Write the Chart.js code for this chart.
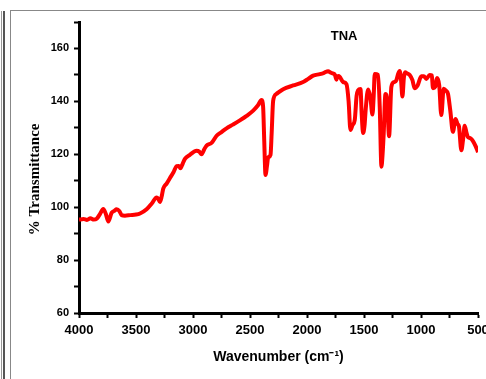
<!DOCTYPE html>
<html>
<head>
<meta charset="utf-8">
<script src="https://cdn.jsdelivr.net/npm/chart.js@4"></script>
<style>
  body { margin: 0; background: #fff; }
  #wrap { position: relative; width: 486px; height: 379px; overflow: hidden; }
  #outer1 { position: absolute; left: 1px; top: 11px; width: 1px; height: 368px; background: #999; }
  #outer2 { position: absolute; left: 3px; top: 11px; width: 2px; height: 368px; background: #555; }
  #frame { position: absolute; left: 10px; top: 10px; width: 490px; height: 380px; border: 1px solid #888; border-right: none; border-bottom: none; }
  canvas { position: absolute; left: 0; top: 0; }
</style>
</head>
<body>
<div id="wrap">
  <div id="outer1"></div>
  <div id="outer2"></div>
  <div id="frame"></div>
  <canvas id="irChart" width="486" height="379"></canvas>
</div>
<script>
const ctx = document.getElementById("irChart").getContext("2d");

// Wavenumber (cm-1)
const wavenumbers = [
  4000, 3960, 3930, 3900, 3870, 3845, 3815, 3787, 3765, 3743,
  3714, 3690, 3670, 3645, 3626, 3597, 3550, 3500, 3465, 3407,
  3360, 3319, 3305, 3290, 3275, 3261, 3230, 3202, 3170, 3144,
  3125, 3110, 3090, 3071, 3027, 2969, 2945, 2925, 2900, 2881,
  2837, 2793, 2750, 2706, 2650, 2589, 2530, 2472, 2430, 2399,
  2385, 2375, 2364, 2350, 2341, 2320, 2310, 2297, 2268, 2209,
  2122, 2034, 1990, 1946, 1888, 1850, 1815, 1790, 1771, 1755,
  1742, 1728, 1713, 1698, 1683, 1654, 1635, 1619, 1601, 1581,
  1565, 1552, 1531, 1520, 1508, 1495, 1485, 1464, 1444, 1426,
  1415, 1406, 1377, 1362, 1347, 1337, 1327, 1312, 1297, 1280,
  1260, 1235, 1216, 1200, 1187, 1175, 1163, 1150, 1140, 1120,
  1099, 1075, 1056, 1030, 997, 975, 953, 924, 905, 895,
  875, 860, 840, 822, 801, 780, 763, 743, 720, 697,
  680, 667, 646, 630, 617, 600, 588, 565, 544, 520,
  500
];

// % Transmittance at each wavenumber
const transmittance = [
  95.3, 95.5, 95.2, 95.8, 95.3, 95.6, 97.5, 99.3, 97.5, 94.6,
  97.9, 98.6, 99.2, 98.5, 97.0, 96.8, 97.0, 97.2, 97.6, 99.2,
  101.5, 103.7, 103.2, 102.0, 104.0, 107.0, 109.0, 111.0, 113.3, 115.5,
  115.6, 114.7, 116.5, 118.3, 119.8, 121.3, 121.0, 120.0, 122.0, 123.3,
  124.3, 127.0, 128.4, 129.8, 131.2, 132.8, 134.5, 136.5, 138.5, 140.5,
  138.0, 125.0, 112.2, 116.0, 118.8, 119.8, 128.0, 140.2, 142.8, 144.6,
  146.0, 147.3, 148.5, 149.7, 150.3, 150.8, 151.4, 150.8, 150.5, 150.0,
  148.2, 149.6, 149.3, 148.2, 147.3, 146.5, 140.0, 129.2, 131.0, 133.0,
  142.0, 144.2, 144.7, 135.0, 128.0, 131.0, 137.0, 144.5, 141.5, 135.0,
  142.0, 150.3, 150.0, 138.0, 115.3, 120.0, 128.0, 142.8, 140.5, 126.8,
  145.5, 147.3, 148.0, 150.5, 151.5, 148.0, 141.8, 149.0, 151.0, 150.5,
  150.0, 148.0, 145.0, 146.0, 149.5, 149.5, 148.5, 150.0, 149.8, 145.0,
  145.5, 148.8, 146.0, 134.8, 144.8, 144.0, 142.8, 136.5, 128.5, 133.3,
  131.5, 130.5, 121.5, 126.0, 130.8, 128.0, 126.5, 126.0, 125.0, 123.0,
  120.8
];

const sampleLabel = "TNA";
const xTitle = "Wavenumber (cm\u207B\u00B9)";
const yTitle = "% Transmittance";

// sample name inside the plot and the y-axis title (sits a bit low, as in the original)
const textPlugin = {
  id: "texts",
  afterDraw(chart) {
    const { ctx, scales } = chart;
    ctx.save();
    ctx.fillStyle = "#000";
    ctx.textAlign = "center";
    ctx.textBaseline = "middle";
    ctx.font = "bold 13px 'Liberation Sans', Arial, sans-serif";
    ctx.fillText(sampleLabel, scales.x.getPixelForValue(1675), scales.y.getPixelForValue(164.5));

    ctx.translate(35, scales.y.getPixelForValue(110.5));
    ctx.rotate(-Math.PI / 2);
    ctx.font = "bold 15px 'Liberation Serif', 'Times New Roman', serif";
    ctx.fillText(yTitle, 0, 0);
    ctx.restore();
  }
};

const points = wavenumbers.map((w, i) => ({ x: w, y: transmittance[i] }));

new Chart(ctx, {
  type: "line",
  data: {
    datasets: [{
      label: sampleLabel,
      data: points,
      borderColor: "#ff0000",
      borderWidth: 4,
      pointRadius: 0,
      cubicInterpolationMode: "monotone",
      fill: false
    }]
  },
  options: {
    responsive: false,
    animation: false,
    layout: { padding: { left: 0, right: 8, top: 22, bottom: 0 } },
    plugins: {
      legend: { display: false },
      tooltip: { enabled: false }
    },
    scales: {
      x: {
        type: "linear",
        reverse: true,
        min: 500,
        max: 4000,
        afterFit: s => { s.height = 66; s.paddingLeft = 0; s.paddingRight = 0; },
        border: { display: true, color: "#000", width: 3 },
        grid: { drawOnChartArea: false, tickLength: 5, tickWidth: 2, tickColor: "#000" },
        ticks: {
          stepSize: 250,
          autoSkip: false,
          maxRotation: 0,
          padding: 5,
          color: "#000",
          font: { family: "'Liberation Sans', Arial, sans-serif", size: 13, weight: "bold" },
          callback: v => (v % 500 === 0 ? v : "")
        },
        title: {
          display: true,
          text: xTitle,
          color: "#000",
          font: { family: "'Liberation Sans', Arial, sans-serif", size: 14, weight: "bold" },
          padding: { top: 0, bottom: 13 }
        }
      },
      y: {
        min: 60,
        max: 170,
        afterFit: s => { s.width = 79; s.paddingTop = 0; s.paddingBottom = 0; },
        border: { display: true, color: "#000", width: 3 },
        grid: { drawOnChartArea: false, tickLength: 5, tickWidth: 2, tickColor: "#000" },
        ticks: {
          stepSize: 10,
          autoSkip: false,
          padding: 5,
          color: "#000",
          font: { family: "'Liberation Sans', Arial, sans-serif", size: 11, weight: "bold" },
          callback: v => (v % 20 === 0 ? v : "")
        }
      }
    }
  },
  plugins: [textPlugin]
});
</script>
</body>
</html>
